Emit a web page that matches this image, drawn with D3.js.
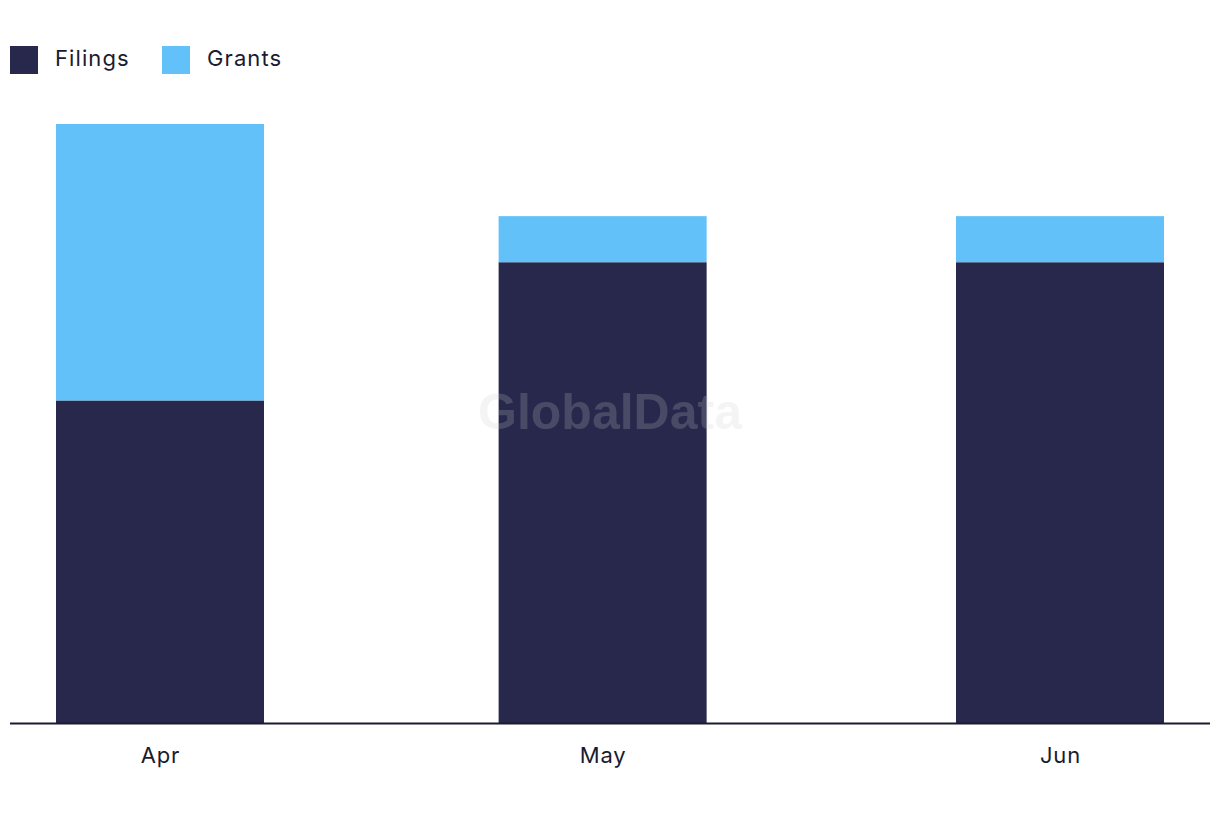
<!DOCTYPE html>
<html><head><meta charset="utf-8">
<script src="https://cdn.jsdelivr.net/npm/d3@7"></script>
<style>body{margin:0;background:#fff;}svg{display:block;font-family:Inter,"Noto Sans",sans-serif;}</style>
</head><body><svg id="c" width="1220" height="822"></svg>
<script>
const months = ["2023-04-01","2023-05-01","2023-06-01"];
const monthLabels = ["Apr","May","Jun"];
const filings = [7,10,10];
const grants = [6,1,1];
const seriesNames = ["Filings","Grants"];
const seriesColors = ["#27284b","#61c1f8"];

const svg = d3.select("#c");
const parse = d3.timeParse("%Y-%m-%d");
const dates = months.map(parse);
const x = d3.scaleTime().domain([dates[0], dates[2]]).range([160,1060]);
const y = d3.scaleLinear().domain([0,13]).range([723,124]);
const barW = 208;

const data = dates.map((d,i)=>({date:d, Filings:filings[i], Grants:grants[i]}));
const stack = d3.stack().keys(seriesNames)(data);
const color = d3.scaleOrdinal().domain(seriesNames).range(seriesColors);

svg.append("g").selectAll("g").data(stack).join("g").attr("fill",d=>color(d.key))
  .selectAll("rect").data(d=>d).join("rect")
  .attr("x",d=>x(d.data.date)-barW/2).attr("width",barW)
  .attr("y",d=>y(d[1])).attr("height",d=>y(d[0])-y(d[1]));

// axis
const ax = svg.append("g").attr("transform","translate(0,723)")
  .call(d3.axisBottom(x).tickValues(dates).tickFormat((d,i)=>monthLabels[i]).tickSize(0).tickPadding(24));
ax.select(".domain").remove();
ax.selectAll("text").attr("font-size",22).attr("fill","#1b1b2f").attr("font-family","Inter, sans-serif").attr("letter-spacing","0.8px");
svg.append("line").attr("x1",10).attr("x2",1210).attr("y1",723.5).attr("y2",723.5).attr("stroke","#1b1b2f").attr("stroke-width",2);

// watermark
svg.append("text").attr("x",610).attr("y",429).attr("text-anchor","middle")
  .attr("font-size",50).attr("font-weight","bold").attr("font-family","Liberation Sans, Arial, sans-serif")
  .attr("fill","#cbcbcb").attr("fill-opacity",0.21).text("GlobalData");

// legend
const legX = [10,162];
const leg = svg.append("g");
seriesNames.forEach((s,i)=>{
  leg.append("rect").attr("x",legX[i]).attr("y",46).attr("width",28).attr("height",28).attr("fill",seriesColors[i]);
  leg.append("text").attr("x",legX[i]+45).attr("y",66).attr("font-size",22).attr("letter-spacing","1.1px").attr("fill","#1b1b2f").text(s);
});
</script></body></html>
